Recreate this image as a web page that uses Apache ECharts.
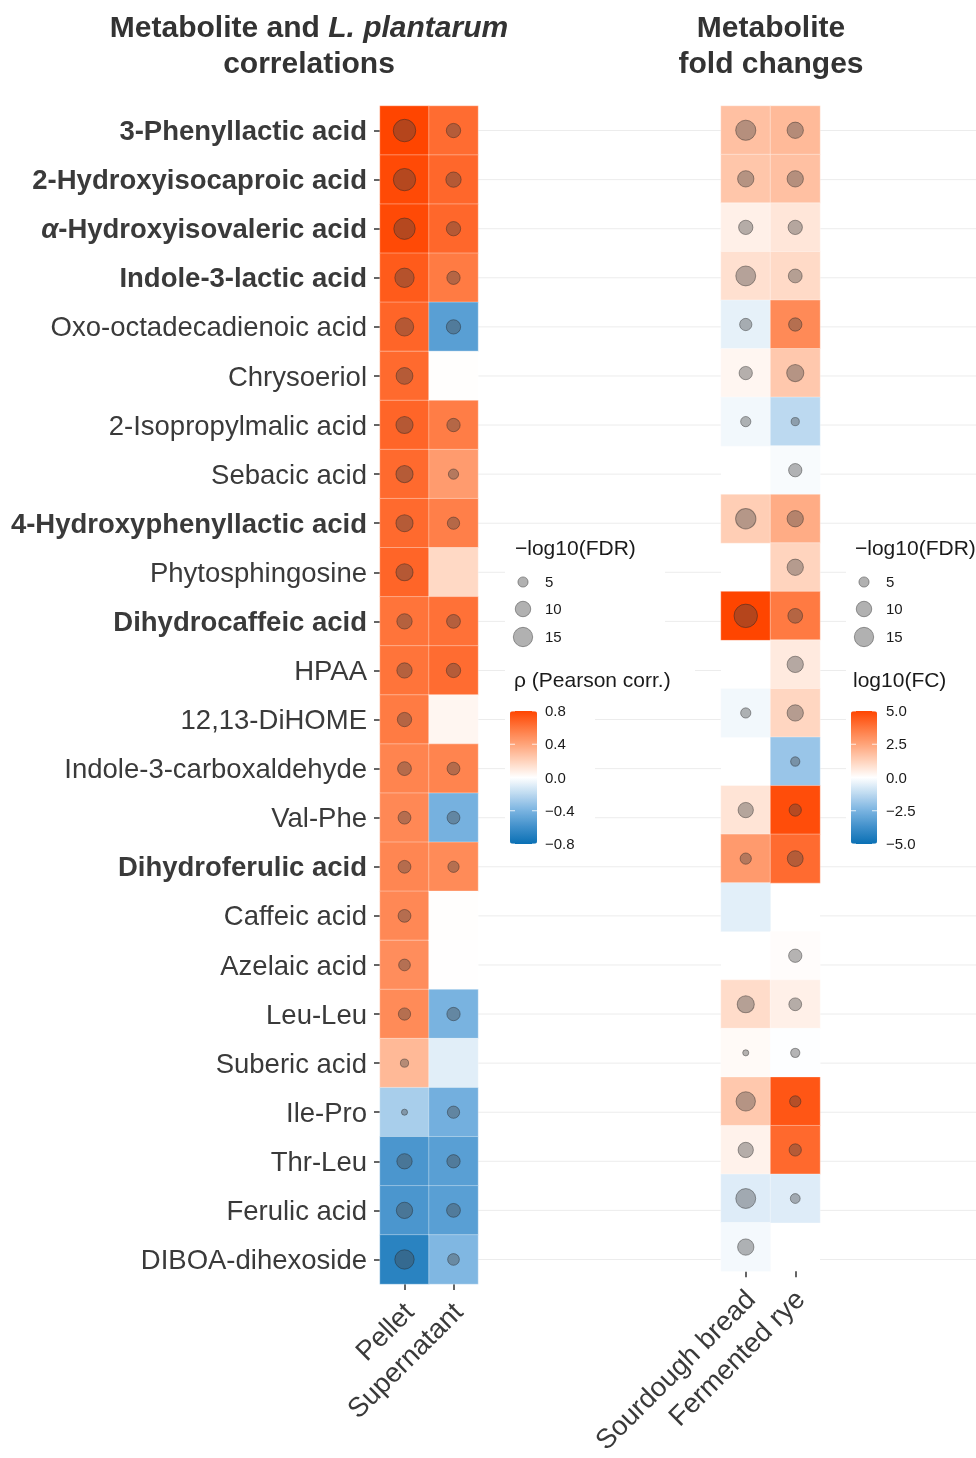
<!DOCTYPE html>
<html><head><meta charset="utf-8">
<script src="https://cdn.jsdelivr.net/npm/echarts@6/dist/echarts.min.js"></script>
<style>html,body{margin:0;padding:0;background:#fff}#c{width:976px;height:1458px}</style>
</head><body><div id="c"></div>
<script>
const metabolites = ['3-Phenyllactic acid','2-Hydroxyisocaproic acid','α-Hydroxyisovaleric acid','Indole-3-lactic acid','Oxo-octadecadienoic acid','Chrysoeriol','2-Isopropylmalic acid','Sebacic acid','4-Hydroxyphenyllactic acid','Phytosphingosine','Dihydrocaffeic acid','HPAA','12,13-DiHOME','Indole-3-carboxaldehyde','Val-Phe','Dihydroferulic acid','Caffeic acid','Azelaic acid','Leu-Leu','Suberic acid','Ile-Pro','Thr-Leu','Ferulic acid','DIBOA-dihexoside'];
const boldFlags = [1,1,1,1,0,0,0,0,1,0,1,0,0,0,0,1,0,0,0,0,0,0,0,0];
const corrColumns = ['Pellet','Supernatant'];
const fcColumns = ['Sourdough bread','Fermented rye'];
const rhoPellet = [0.80,0.78,0.78,0.71,0.67,0.65,0.67,0.65,0.65,0.67,0.61,0.61,0.58,0.54,0.52,0.53,0.52,0.50,0.51,0.31,-0.26,-0.56,-0.56,-0.68];
const rhoSupernatant = [0.64,0.66,0.66,0.58,-0.51,0.005,0.57,0.44,0.56,0.17,0.62,0.64,0.04,0.54,-0.41,0.51,0.005,0.003,-0.40,-0.09,-0.42,-0.51,-0.51,-0.38];
const fdrPellet = [19.8,19.5,18,15,13.6,11.6,12,12,12,12,9.8,9.8,8.7,8.2,7.2,7.2,7.2,6.2,6.7,3.6,2.5,9.8,11,15];
const fdrSupernatant = [8.7,9.8,8.7,7.7,8.7,null,7.7,5,6.7,null,8.2,8.7,null,7.2,7.2,5.8,null,null,7.7,null,6.7,7.7,8.2,6.2];
const fcSourdough = [1.74,1.58,0.42,0.86,-0.47,0.25,-0.24,null,1.36,null,5.0,null,-0.24,null,0.75,2.77,-0.54,null,0.97,0.14,1.52,0.36,-0.62,-0.2];
const fcRye = [1.9,1.74,0.69,1.03,3.21,1.52,-1.25,-0.13,2.28,1.19,3.64,0.58,1.14,-1.9,4.8,4.02,null,0.08,0.42,-0.03,4.57,4.07,-0.62,null];
const fdrSourdough = [16.2,11,8.7,15.8,6.7,7.7,5,null,16.5,null,21.5,null,5,null,9.8,5.8,null,null,12,2.5,15,9.8,15.8,11];
const fdrRye = [11,11,8.7,8.2,7.7,12,3.6,7.7,11,11,9.2,11,11,4.3,6.7,10.4,null,7.7,7.2,4.3,5.8,6.7,4.7,null];
const sizeLegendValues = [5,10,15];
const rhoTicks = [0.8,0.4,0,-0.4,-0.8];
const fcTicks = [5,2.5,0,-2.5,-5];

const FONT = '"Liberation Sans", Arial, Helvetica, sans-serif';
const TXT = '#3a3a3a';
const colorStops = ['#0a70b4','#3f8fca','#79b3e0','#bcd9f0','#ffffff','#ffd2bb','#ffa47a','#ff763d','#ff4500'];
const dia = v => Math.sqrt(Math.max(27 * v - 30, 16));

function cells(cols){ const out=[]; cols.forEach((arr,c)=>arr.forEach((v,r)=>{ if(v!==null) out.push([c,r,v]); })); return out; }
function fmt(v){ return v.toFixed(1).replace('-', '\u2212'); }

const chart = echarts.init(document.getElementById('c'), null, {renderer:'canvas'});

const heatGrids = [
  {left:380, top:106, width:98, height:1178},
  {left:721, top:106, width:99, height:1178},
  {left:478, top:106, width:243, height:1178},
  {left:820, top:106, width:156, height:1178}
];

function catX(idx, cats){
  return {type:'category', gridIndex:idx, data:cats, position:'bottom',
    axisLine:{show:false}, splitLine:{show:false},
    axisTick:{show:true, alignWithLabel:true, length:6, lineStyle:{color:'#333', width:1.5}},
    axisLabel:{rotate:45, interval:0, fontSize:27.5, fontFamily:FONT, color:TXT, margin:30, padding:[0,-8,0,0]}};
}
function catY(idx, showLabels){
  return {type:'category', gridIndex:idx, data:metabolites, inverse:true,
    axisLine:{show:false}, splitLine:{show:false},
    axisTick:{show:showLabels, alignWithLabel:true, length:6, lineStyle:{color:'#333', width:1.5}},
    axisLabel:{show:showLabels, interval:0, margin:13, fontSize:27.5, fontFamily:FONT, color:TXT, padding:[4,0,0,0],
      formatter:(v, i) => {
        if (!boldFlags[i]) return '{n|' + v + '}';
        if (v.startsWith('α')) return '{bi|α}{b|' + v.slice(1) + '}';
        return '{b|' + v + '}';
      },
      rich:{
        n:{fontSize:27.5, fontFamily:FONT, color:TXT},
        b:{fontSize:27.5, fontFamily:FONT, color:TXT, fontWeight:'bold'},
        bi:{fontSize:27.5, fontFamily:FONT, color:TXT, fontWeight:'bold', fontStyle:'italic'}
      }}};
}
function valX(idx){ return {type:'value', gridIndex:idx, min:0, max:1, show:false}; }

function gridLineSeries(idx){
  return {type:'custom', xAxisIndex:idx, yAxisIndex:idx, silent:true, z:1,
    data: metabolites.map((m,i)=>[0,i]), encode:{x:0,y:1},
    renderItem:(params, api)=>{
      const y = api.coord([0, api.value(1)])[1];
      const cs = params.coordSys;
      return {type:'line', shape:{x1:cs.x, y1:y, x2:cs.x+cs.width, y2:y}, style:{stroke:'#ececec', lineWidth:1}};
    }};
}
const dotStyle = {color:'rgba(70,70,70,0.5)', borderColor:'rgba(30,30,30,0.5)', borderWidth:1};

const series = [
  {type:'heatmap', xAxisIndex:0, yAxisIndex:0, data:cells([rhoPellet, rhoSupernatant]),
    itemStyle:{borderColor:'rgba(255,255,255,0.35)', borderWidth:1}, z:2},
  {type:'heatmap', xAxisIndex:1, yAxisIndex:1, data:cells([fcSourdough, fcRye]),
    itemStyle:{borderColor:'rgba(255,255,255,0.35)', borderWidth:1}, z:2},
  {type:'scatter', xAxisIndex:0, yAxisIndex:0, data:cells([fdrPellet, fdrSupernatant]),
    symbolSize:(d)=>dia(d[2]), itemStyle:dotStyle, z:3},
  {type:'scatter', xAxisIndex:1, yAxisIndex:1, data:cells([fdrSourdough, fdrRye]),
    symbolSize:(d)=>dia(d[2]), itemStyle:dotStyle, z:3},
  gridLineSeries(2), gridLineSeries(3)
];

// legends drawn as graphics
const graphic = [];
function rect(x,y,w,h){ graphic.push({type:'rect', shape:{x,y,width:w,height:h}, style:{fill:'#fff'}, z:3, silent:true}); }
function text(x,y,t,size,align){ graphic.push({type:'text', x, y, z:10, silent:true, style:{text:t, fontSize:size, fontFamily:FONT, fill:'#1a1a1a', align:align||'left', verticalAlign:'middle'}}); }
rect(505,528,160,128); rect(505,660,190,34); rect(505,694,90,166);
rect(846,528,130,332);

const legendDot = {fill:'rgba(70,70,70,0.42)', stroke:'rgba(30,30,30,0.4)'};
function sizeLegend(x0, circleX, labelX){
  text(x0, 549, '\u2212log10(FDR)', 21);
  const ys = [582, 609, 637];
  sizeLegendValues.forEach((v,i)=>{
    graphic.push({type:'circle', z:10, silent:true, shape:{cx:circleX, cy:ys[i], r:dia(v)/2}, style:{fill:legendDot.fill, stroke:legendDot.stroke, lineWidth:1}});
    text(labelX, ys[i]+1, String(v), 15);
  });
}
sizeLegend(515, 523, 545);
sizeLegend(855, 864, 886);
text(514, 681, 'ρ (Pearson corr.)', 21);
text(853, 681, 'log10(FC)', 21);

const barTop = 711, barH = 133;
function barTicks(x, w, labelX, ticks, max){
  ticks.forEach(v=>{
    const y = barTop + (max - v) / (2*max) * barH;
    graphic.push({type:'line', z:10, silent:true, shape:{x1:x, y1:y, x2:x+5, y2:y}, style:{stroke:'rgba(255,255,255,0.8)', lineWidth:1}});
    graphic.push({type:'line', z:10, silent:true, shape:{x1:x+w-5, y1:y, x2:x+w, y2:y}, style:{stroke:'rgba(255,255,255,0.8)', lineWidth:1}});
    text(labelX, y+1, fmt(v), 15);
  });
}
barTicks(510, 27, 545, rhoTicks, 0.8);
barTicks(851, 26, 886, fcTicks, 5);

const option = {
  backgroundColor:'#fff',
  animation:false,
  title:[
    {text:'Metabolite and {i|L. plantarum}\ncorrelations', left:309, top:11, padding:0, textAlign:'center',
      textStyle:{fontFamily:FONT, fontSize:30, fontWeight:'bold', color:'#333', lineHeight:36,
        rich:{i:{fontFamily:FONT, fontSize:30, fontWeight:'bold', fontStyle:'italic', color:'#333', lineHeight:36}}}},
    {text:'Metabolite\nfold changes', left:771, top:11, padding:0, textAlign:'center',
      textStyle:{fontFamily:FONT, fontSize:30, fontWeight:'bold', color:'#333', lineHeight:36}}
  ],
  grid: heatGrids,
  xAxis:[catX(0, corrColumns), catX(1, fcColumns), valX(2), valX(3)],
  yAxis:[catY(0,true), catY(1,false), catY(2,false), catY(3,false)],
  visualMap:[
    {type:'continuous', seriesIndex:0, dimension:2, min:-0.8, max:0.8, calculable:false, inRange:{color:colorStops},
      left:510, top:barTop, itemWidth:27, itemHeight:barH, padding:0, text:null, showLabel:false, z:5, hoverLink:false},
    {type:'continuous', seriesIndex:1, dimension:2, min:-5, max:5, calculable:false, inRange:{color:colorStops},
      left:851, top:barTop, itemWidth:26, itemHeight:barH, padding:0, text:null, showLabel:false, z:5, hoverLink:false}
  ],
  graphic: graphic,
  series: series
};
chart.setOption(option);
</script>
</body></html>
